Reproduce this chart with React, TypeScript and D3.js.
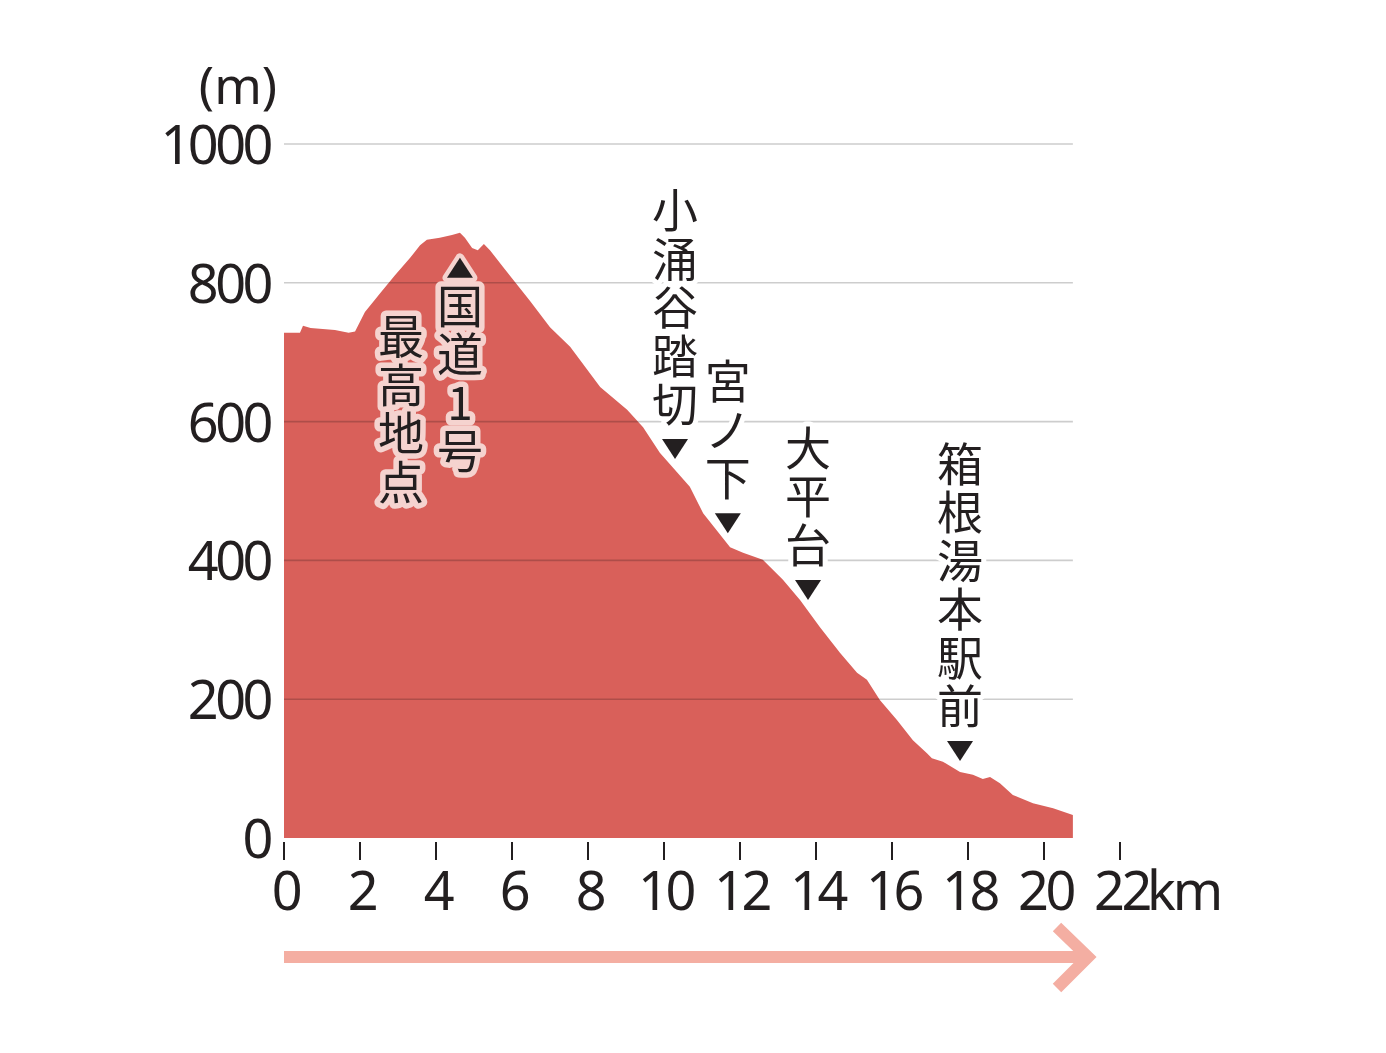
import React, { useEffect, useRef } from 'react';
import * as d3 from 'd3';

// elevation profile, distance (km) vs height (m)
const distKm = [
    0, 0.42, 0.5, 0.7, 1.34, 1.7, 1.87, 2.13, 2.53, 2.92, 3.32, 3.58, 3.76, 4.1, 4.42, 4.63,
    4.76, 4.95, 5.1, 5.26, 5.42, 5.76, 6.47, 7.0, 7.53, 8.32, 9.03, 9.45, 9.89, 10.68, 11.03,
    11.74, 12.08, 12.6, 13.13, 13.58, 14.1, 14.63, 15.08, 15.34, 15.68, 16.13, 16.55, 16.92,
    17.05, 17.34, 17.79, 18.13, 18.39, 18.58, 18.84, 19.18, 19.71, 20.24, 20.76,
];
const elevM = [
    728, 728, 738, 735, 732, 728, 730, 758, 785, 811, 836, 854, 862, 865, 869, 872,
    865, 850, 847, 856, 847, 823, 774, 736, 708, 650, 617, 592, 555, 506, 468,
    419, 411, 401, 372, 343, 304, 267, 238, 228, 199, 170, 141, 122,
    115, 110, 95, 91, 85, 88, 79, 62, 50, 43, 33,
];

const yTicks = [0, 200, 400, 600, 800, 1000];
const xTicks = [0, 2, 4, 6, 8, 10, 12, 14, 16, 18, 20, 22];

// landmarks marked with a triangle pointing down onto the profile
const stopNames = ['小涌谷踏切', '宮ノ下', '大平台', '箱根湯本駅前'];
const stopKm = [10.29, 11.68, 13.79, 17.79];

// summit labels
const summitName = '国道1号';
const summitKm = 4.63;
const summitNote = '最高地点';
const summitNoteKm = 3.05;

const RED = '#d9605a';
const INK = '#231f20';

const App: React.FC = () => {
    const svgRef = useRef<SVGSVGElement | null>(null);

    useEffect(() => {
        if (!svgRef.current) return;
        const svg = d3.select(svgRef.current);
        svg.selectAll('*').remove();

        const x = d3.scaleLinear().domain([0, 22]).range([284, 1120]);
        const y = d3.scaleLinear().domain([0, 1000]).range([838, 144]);
        const elevAt = (km: number) => {
            const i = d3.bisectLeft(distKm, km);
            if (i <= 0) return elevM[0];
            const t = (km - distKm[i - 1]) / (distKm[i] - distKm[i - 1]);
            return elevM[i - 1] + t * (elevM[i] - elevM[i - 1]);
        };

        const pts = distKm.map((d, i) => [d, elevM[i]] as [number, number]);
        const area = d3.area<[number, number]>()
            .x((d) => x(d[0]))
            .y0(y(0))
            .y1((d) => y(d[1]));

        svg.append('path')
            .datum(pts)
            .attr('fill', RED)
            .attr('d', area);

        // grid lines
        const lastKm = distKm[distKm.length - 1];
        svg.append('g')
            .selectAll('line')
            .data(yTicks.filter((t) => t > 0))
            .join('line')
            .attr('x1', x(0))
            .attr('x2', x(lastKm))
            .attr('y1', (d) => y(d))
            .attr('y2', (d) => y(d))
            .attr('stroke', '#cdcdcd')
            .attr('stroke-width', 1.6)
            .style('mix-blend-mode', 'multiply');

        const numFont = "'Noto Sans', 'Open Sans', sans-serif";

        // y labels
        svg.append('g')
            .selectAll('text')
            .data(yTicks)
            .join('text')
            .attr('x', 270)
            .attr('y', (d) => y(d) + 20)
            .attr('text-anchor', 'end')
            .attr('font-family', numFont)
            .attr('font-size', 54)
            .attr('letter-spacing', -3.5)
            .attr('fill', INK)
            .text((d) => d);

        svg.append('text')
            .attr('x', 238)
            .attr('y', 104)
            .attr('text-anchor', 'middle')
            .attr('font-family', numFont)
            .attr('font-size', 51)
            .attr('fill', INK)
            .text('(m)');

        // x ticks and labels
        const xg = svg.append('g');
        xg.selectAll('line')
            .data(xTicks)
            .join('line')
            .attr('x1', (d) => x(d))
            .attr('x2', (d) => x(d))
            .attr('y1', 842)
            .attr('y2', 860)
            .attr('stroke', INK)
            .attr('stroke-width', 2);
        xg.selectAll('text')
            .data(xTicks)
            .join('text')
            .attr('x', (d) => x(d) + 1.5)
            .attr('y', 910)
            .attr('text-anchor', 'middle')
            .attr('font-family', numFont)
            .attr('font-size', 54)
            .attr('letter-spacing', -3.5)
            .attr('fill', INK)
            .text((d) => d);
        svg.append('text')
            .attr('x', x(22) + 27)
            .attr('y', 910)
            .attr('font-family', numFont)
            .attr('font-size', 54)
            .attr('letter-spacing', -3)
            .attr('fill', INK)
            .text('km');

        const jpFont = "'Noto Sans CJK JP', sans-serif";
        const step = 48.5;
        const tri = (cx: number, cy: number, down: boolean) => {
            const w = 13, h = 10;
            return down
                ? `M${cx - w},${cy - h}L${cx + w},${cy - h}L${cx},${cy + h}Z`
                : `M${cx - w},${cy + h}L${cx + w},${cy + h}L${cx},${cy - h}Z`;
        };

        // one text per character, stacked vertically
        const drawChars = (
            g: d3.Selection<SVGGElement, unknown, null, undefined>,
            chars: string[], cx: number, ys: number[], halo: string, haloW: number,
        ) => {
            g.selectAll('text.c')
                .data(chars)
                .join('text')
                .attr('class', 'c')
                .attr('x', cx)
                .attr('y', (_, i) => ys[i] + 16)
                .attr('text-anchor', 'middle')
                .attr('font-family', jpFont)
                .attr('font-size', 46)
                .attr('fill', INK)
                .attr('stroke', halo)
                .attr('stroke-width', haloW)
                .attr('stroke-linejoin', 'round')
                .attr('paint-order', 'stroke')
                .text((d) => d);
        };

        // stops along the descent
        stopNames.forEach((name, k) => {
            const cx = x(stopKm[k]);
            const my = y(elevAt(stopKm[k])) - 21;
            const g = svg.append('g');
            const chars = Array.from(name);
            const ys = chars.map((_, i) => my - 44 - (chars.length - 1 - i) * step);
            drawChars(g, chars, cx, ys, '#ffffff', 10);
            g.append('path').attr('d', tri(cx, my, true)).attr('fill', INK);
        });

        // summit label with pink halo
        const halo = '#f5d3cf';
        {
            const cx = x(summitKm);
            const my = y(elevAt(summitKm)) + 35;
            const g = svg.append('g');
            const chars = Array.from(summitName);
            const ys = chars.map((_, i) => my + 39 + i * step);
            g.append('path').attr('d', tri(cx, my, false))
                .attr('fill', INK).attr('stroke', halo).attr('stroke-width', 9)
                .attr('stroke-linejoin', 'round').attr('paint-order', 'stroke');
            drawChars(g, chars, cx, ys, halo, 11);
        }
        {
            const cx = x(summitNoteKm) + 1;
            const g = svg.append('g');
            const chars = Array.from(summitNote);
            const ys = chars.map((_, i) => 337 + i * step);
            drawChars(g, chars, cx, ys, halo, 11);
        }

        // direction arrow
        const arrow = svg.append('g')
            .attr('stroke', '#f4aea2')
            .attr('stroke-width', 12)
            .attr('fill', 'none');
        arrow.append('line')
            .attr('x1', x(0)).attr('x2', 1088)
            .attr('y1', 957).attr('y2', 957);
        arrow.append('path')
            .attr('d', 'M1057,927L1088,957L1057,988');
    }, []);

    return (
        <svg ref={svgRef} width={1386} height={1053}
            style={{ position: 'absolute', left: 0, top: 0, background: '#fff' }} />
    );
};

export default App;
